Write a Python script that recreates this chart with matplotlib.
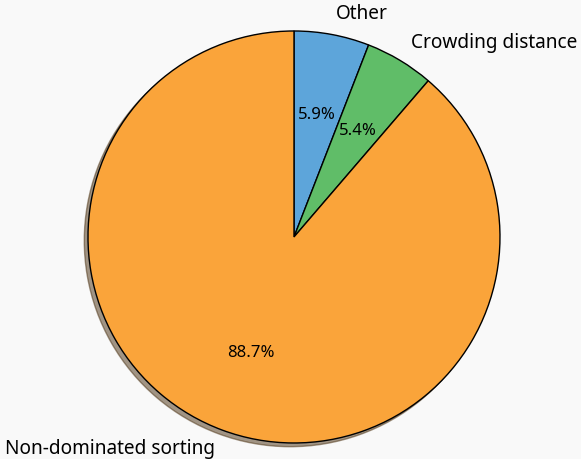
import matplotlib.pyplot as plt

# Datos del gráfico
labels = ['Other', 'Crowding distance', 'Non-dominated sorting']
shares = [5.9, 5.4, 88.7]
colors = ['#5DA5DA', '#60BD68', '#FAA43A']

plt.rcParams['font.family'] = ['Noto Sans', 'DejaVu Sans']
plt.rcParams['font.size'] = 12

fig = plt.figure(figsize=(5.81, 4.59), dpi=100, facecolor='#f9f9f9')
ax = fig.add_axes([0.0628, -0.0773, 0.8864, 1.122])
ax.set_facecolor('#f9f9f9')

wedges, texts, autotexts = ax.pie(
    shares, labels=labels, colors=colors, autopct='%1.1f%%',
    startangle=90, counterclock=False,
    shadow={'ox': -0.013, 'oy': -0.013},
    wedgeprops={'edgecolor': 'black', 'linewidth': 1})
for t in texts:
    t.set_fontsize(13.7)
ax.set_aspect('equal')

fig.savefig('out.png', facecolor=fig.get_facecolor())
